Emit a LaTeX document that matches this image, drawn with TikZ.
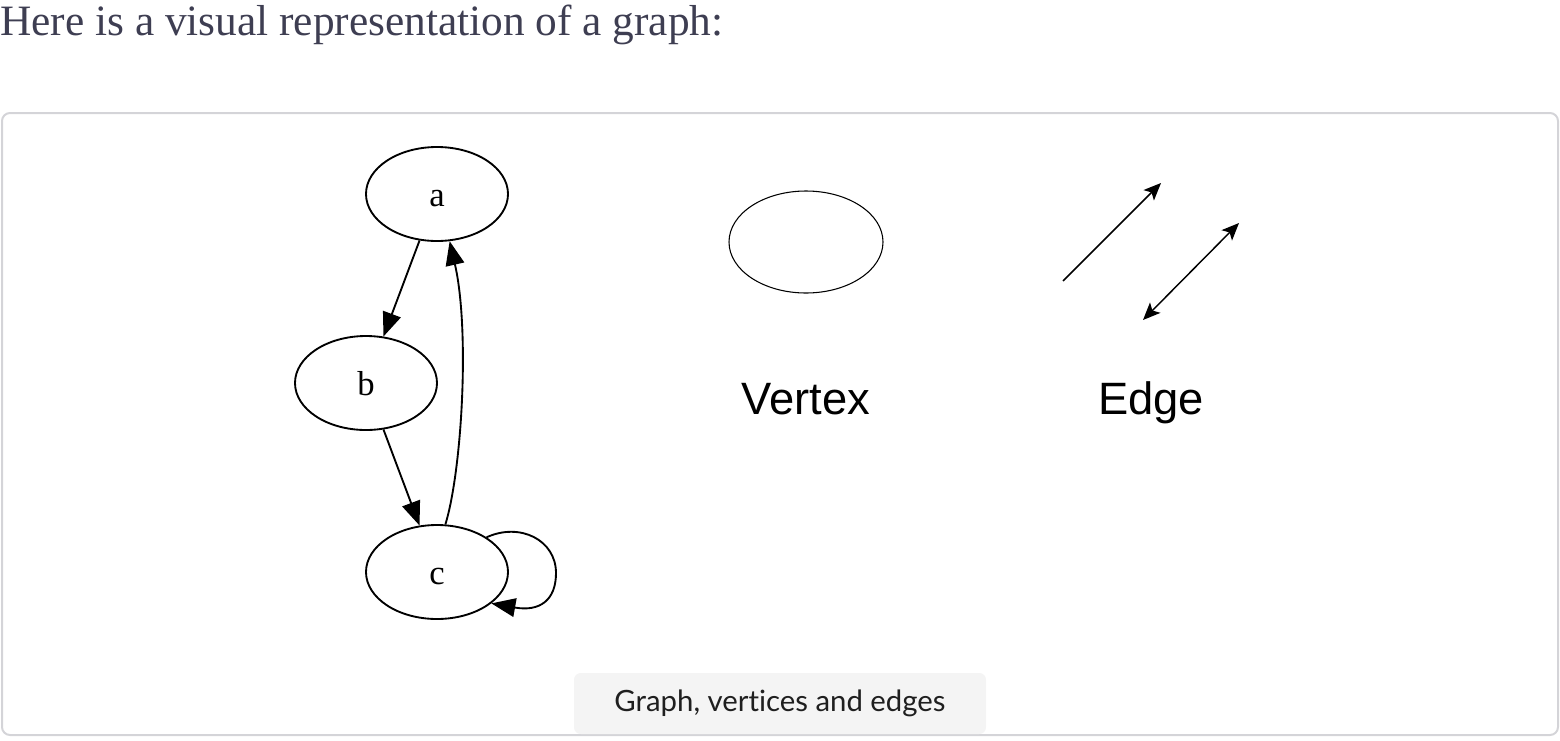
\documentclass[tikz,border=0pt]{standalone}
\usepackage{xcolor}
\usepackage{fontspec}
\usepackage{tikz}
\usetikzlibrary{arrows.meta,shapes.geometric}
\setmainfont{Liberation Serif}
\newfontfamily\legendfont{Liberation Sans}
\newfontfamily\capfont[Ligatures=NoCommon]{Lato}
\definecolor{headcol}{RGB}{62,62,82}
\definecolor{framecol}{RGB}{212,212,216}
\definecolor{capfill}{RGB}{244,244,244}

\begin{document}
\begin{tikzpicture}[x=0.75pt, y=-0.75pt,
		vertex/.style={draw, ellipse, line width=1.4pt, minimum width=106.5pt, minimum height=70.5pt, inner sep=0pt, text height=18pt, text depth=0pt, font=\fontsize{26}{26}\selectfont},
		arc/.style={line width=1.4pt, >={Triangle[length=18pt, width=14pt]}},
		thin arc/.style={line width=1.1pt, >={Stealth[length=13pt, width=11pt, inset=3pt]}}]
		\useasboundingbox (0,0) rectangle (1560,740);
		\node[anchor=base west, inner sep=0pt, text=headcol, font=\fontsize{32.5}{32.5}\selectfont] (title) at (0,35) {Here is a visual representation of a graph:};
		\draw[framecol, line width=1.5pt, rounded corners=6pt] (2,113) rectangle (1558,735);
		% the graph
		\node[vertex] (a) at (437,194) {a};
		\node[vertex] (b) at (366,383) {b};
		\node[vertex] (c) at (437,572) {c};
		\draw[arc, ->] (a) -- (b);
		\draw[arc, ->] (b) -- (c);
		\draw[arc, ->] (c.80) .. controls (462,470) and (470,330) .. (a.-75);
		\draw[arc, ->] (c.35) .. controls (520,522) and (556,540) .. (556,573) .. controls (556,600) and (540,612) .. (c.-30);
		% vertex
		\node[draw, ellipse, line width=0.8pt, minimum width=115.5pt, minimum height=76.5pt] (vtx) at (806,242) {};
		\node[anchor=base, font=\legendfont\fontsize{34}{34}\selectfont] (vtxtext) at (806,414) {Vertex};
		% edges
		\coordinate (e1s) at (1063,281);
		\coordinate (e1t) at (1161,183);
		\coordinate (e2s) at (1143,320);
		\coordinate (e2t) at (1239,223);
		\draw[thin arc, ->] (e1s) -- (e1t);
		\draw[thin arc, <->] (e2s) -- (e2t);
		\node[anchor=base, font=\legendfont\fontsize{34}{34}\selectfont] (edgetext) at (1151,414) {Edge};
		% caption
		\node[fill=capfill, rounded corners=5pt, minimum width=309pt, minimum height=45.75pt, inner sep=0pt, text=black!88, font=\capfont\fontsize{22}{22}\selectfont] (caption) at (780,703.5) {Graph, vertices and edges};
\end{tikzpicture}
\end{document}
